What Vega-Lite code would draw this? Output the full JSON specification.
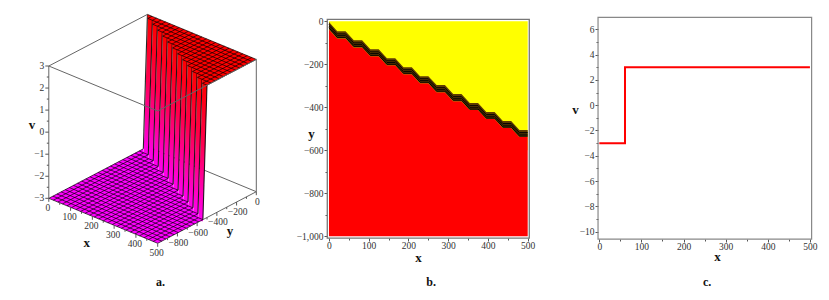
{
"$schema":"https://vega.github.io/schema/vega-lite/v6.json",
"background":"white","padding":0,"bounds":"flush","spacing":68,
"config":{"view":{"stroke":null},"axis":{"grid":false,"domain":false,"labelFont":"Liberation Serif","labelFontSize":9.5,"labelColor":"#333","tickColor":"#555","tickWidth":1,"titleFont":"Liberation Serif","titleFontSize":13,"titleFontWeight":"bold","titleColor":"#111","titleAngle":0,"titleAlign":"center","titleBaseline":"middle","labelPadding":1,"labelFlush":false}},
"datasets":{
"grid":[
{"x":0,"y":-83.33,"x2":41.67,"y2":-83.33,"v":-3},{"x":0,"y":-125,"x2":83.33,"y2":-125,"v":-3},{"x":0,"y":-166.67,"x2":125,"y2":-166.67,"v":-3},{"x":0,"y":-208.33,"x2":166.67,"y2":-208.33,"v":-3},{"x":0,"y":-250,"x2":208.33,"y2":-250,"v":-3},{"x":0,"y":-291.67,"x2":250,"y2":-291.67,"v":-3},{"x":0,"y":-333.33,"x2":291.67,"y2":-333.33,"v":-3},{"x":0,"y":-375,"x2":333.33,"y2":-375,"v":-3},{"x":0,"y":-416.67,"x2":375,"y2":-416.67,"v":-3},{"x":0,"y":-458.33,"x2":416.67,"y2":-458.33,"v":-3},{"x":0,"y":-500,"x2":458.33,"y2":-500,"v":-3},{"x":0,"y":-541.67,"x2":500,"y2":-541.67,"v":-3},{"x":0,"y":-583.33,"x2":500,"y2":-583.33,"v":-3},{"x":0,"y":-625,"x2":500,"y2":-625,"v":-3},{"x":0,"y":-666.67,"x2":500,"y2":-666.67,"v":-3},{"x":0,"y":-708.33,"x2":500,"y2":-708.33,"v":-3},{"x":0,"y":-750,"x2":500,"y2":-750,"v":-3},{"x":0,"y":-791.67,"x2":500,"y2":-791.67,"v":-3},{"x":0,"y":-833.33,"x2":500,"y2":-833.33,"v":-3},{"x":0,"y":-875,"x2":500,"y2":-875,"v":-3},{"x":0,"y":-916.67,"x2":500,"y2":-916.67,"v":-3},{"x":0,"y":-958.33,"x2":500,"y2":-958.33,"v":-3},{"x":0,"y":-1000,"x2":500,"y2":-1000,"v":-3},
{"x":0,"y":-1000,"x2":0,"y2":-41.67,"v":-3},{"x":20.83,"y":-1000,"x2":20.83,"y2":-83.33,"v":-3},{"x":41.67,"y":-1000,"x2":41.67,"y2":-83.33,"v":-3},{"x":62.5,"y":-1000,"x2":62.5,"y2":-125,"v":-3},{"x":83.33,"y":-1000,"x2":83.33,"y2":-125,"v":-3},{"x":104.17,"y":-1000,"x2":104.17,"y2":-166.67,"v":-3},{"x":125,"y":-1000,"x2":125,"y2":-166.67,"v":-3},{"x":145.83,"y":-1000,"x2":145.83,"y2":-208.33,"v":-3},{"x":166.67,"y":-1000,"x2":166.67,"y2":-208.33,"v":-3},{"x":187.5,"y":-1000,"x2":187.5,"y2":-250,"v":-3},{"x":208.33,"y":-1000,"x2":208.33,"y2":-250,"v":-3},{"x":229.17,"y":-1000,"x2":229.17,"y2":-291.67,"v":-3},{"x":250,"y":-1000,"x2":250,"y2":-291.67,"v":-3},{"x":270.83,"y":-1000,"x2":270.83,"y2":-333.33,"v":-3},{"x":291.67,"y":-1000,"x2":291.67,"y2":-333.33,"v":-3},{"x":312.5,"y":-1000,"x2":312.5,"y2":-375,"v":-3},{"x":333.33,"y":-1000,"x2":333.33,"y2":-375,"v":-3},{"x":354.17,"y":-1000,"x2":354.17,"y2":-416.67,"v":-3},{"x":375,"y":-1000,"x2":375,"y2":-416.67,"v":-3},{"x":395.83,"y":-1000,"x2":395.83,"y2":-458.33,"v":-3},{"x":416.67,"y":-1000,"x2":416.67,"y2":-458.33,"v":-3},{"x":437.5,"y":-1000,"x2":437.5,"y2":-500,"v":-3},{"x":458.33,"y":-1000,"x2":458.33,"y2":-500,"v":-3},{"x":479.17,"y":-1000,"x2":479.17,"y2":-541.67,"v":-3},{"x":500,"y":-1000,"x2":500,"y2":-541.67,"v":-3},
{"x":0,"y":0,"x2":500,"y2":0,"v":3},{"x":20.83,"y":-41.67,"x2":500,"y2":-41.67,"v":3},{"x":62.5,"y":-83.33,"x2":500,"y2":-83.33,"v":3},{"x":104.17,"y":-125,"x2":500,"y2":-125,"v":3},{"x":145.83,"y":-166.67,"x2":500,"y2":-166.67,"v":3},{"x":187.5,"y":-208.33,"x2":500,"y2":-208.33,"v":3},{"x":229.17,"y":-250,"x2":500,"y2":-250,"v":3},{"x":270.83,"y":-291.67,"x2":500,"y2":-291.67,"v":3},{"x":312.5,"y":-333.33,"x2":500,"y2":-333.33,"v":3},{"x":354.17,"y":-375,"x2":500,"y2":-375,"v":3},{"x":395.83,"y":-416.67,"x2":500,"y2":-416.67,"v":3},{"x":437.5,"y":-458.33,"x2":500,"y2":-458.33,"v":3},{"x":479.17,"y":-500,"x2":500,"y2":-500,"v":3},
{"x":20.83,"y":0,"x2":20.83,"y2":-41.67,"v":3},{"x":41.67,"y":0,"x2":41.67,"y2":-41.67,"v":3},{"x":62.5,"y":0,"x2":62.5,"y2":-83.33,"v":3},{"x":83.33,"y":0,"x2":83.33,"y2":-83.33,"v":3},{"x":104.17,"y":0,"x2":104.17,"y2":-125,"v":3},{"x":125,"y":0,"x2":125,"y2":-125,"v":3},{"x":145.83,"y":0,"x2":145.83,"y2":-166.67,"v":3},{"x":166.67,"y":0,"x2":166.67,"y2":-166.67,"v":3},{"x":187.5,"y":0,"x2":187.5,"y2":-208.33,"v":3},{"x":208.33,"y":0,"x2":208.33,"y2":-208.33,"v":3},{"x":229.17,"y":0,"x2":229.17,"y2":-250,"v":3},{"x":250,"y":0,"x2":250,"y2":-250,"v":3},{"x":270.83,"y":0,"x2":270.83,"y2":-291.67,"v":3},{"x":291.67,"y":0,"x2":291.67,"y2":-291.67,"v":3},{"x":312.5,"y":0,"x2":312.5,"y2":-333.33,"v":3},{"x":333.33,"y":0,"x2":333.33,"y2":-333.33,"v":3},{"x":354.17,"y":0,"x2":354.17,"y2":-375,"v":3},{"x":375,"y":0,"x2":375,"y2":-375,"v":3},{"x":395.83,"y":0,"x2":395.83,"y2":-416.67,"v":3},{"x":416.67,"y":0,"x2":416.67,"y2":-416.67,"v":3},{"x":437.5,"y":0,"x2":437.5,"y2":-458.33,"v":3},{"x":458.33,"y":0,"x2":458.33,"y2":-458.33,"v":3},{"x":479.17,"y":0,"x2":479.17,"y2":-500,"v":3},{"x":500,"y":0,"x2":500,"y2":-500,"v":3}
],
"wall":[
{"kind":"s","x":31.25,"y":-41.67,"y2":-83.33},{"kind":"s","x":72.92,"y":-83.33,"y2":-125},{"kind":"s","x":114.58,"y":-125,"y2":-166.67},{"kind":"s","x":156.25,"y":-166.67,"y2":-208.33},{"kind":"s","x":197.92,"y":-208.33,"y2":-250},{"kind":"s","x":239.58,"y":-250,"y2":-291.67},{"kind":"s","x":281.25,"y":-291.67,"y2":-333.33},{"kind":"s","x":322.92,"y":-333.33,"y2":-375},{"kind":"s","x":364.58,"y":-375,"y2":-416.67},{"kind":"s","x":406.25,"y":-416.67,"y2":-458.33},{"kind":"s","x":447.92,"y":-458.33,"y2":-500},{"kind":"s","x":489.58,"y":-500,"y2":-541.67},
{"kind":"e","x":0,"y":0,"y2":-41.67},{"kind":"e","x":41.67,"y":-41.67,"y2":-83.33},{"kind":"e","x":83.33,"y":-83.33,"y2":-125},{"kind":"e","x":125,"y":-125,"y2":-166.67},{"kind":"e","x":166.67,"y":-166.67,"y2":-208.33},{"kind":"e","x":208.33,"y":-208.33,"y2":-250},{"kind":"e","x":250,"y":-250,"y2":-291.67},{"kind":"e","x":291.67,"y":-291.67,"y2":-333.33},{"kind":"e","x":333.33,"y":-333.33,"y2":-375},{"kind":"e","x":375,"y":-375,"y2":-416.67},{"kind":"e","x":416.67,"y":-416.67,"y2":-458.33},{"kind":"e","x":458.33,"y":-458.33,"y2":-500},{"kind":"e","x":500,"y":-500,"y2":-541.67}
],
"floor":[
{"x":0,"y":-1000},{"x":0,"y":-41.67},{"x":20.83,"y":-83.33},{"x":41.67,"y":-83.33},{"x":62.5,"y":-125},{"x":83.33,"y":-125},{"x":104.17,"y":-166.67},{"x":122.6,"y":-166.67},{"x":125,"y":-166.67},{"x":145.83,"y":-208.33},{"x":166.67,"y":-208.33},{"x":187.5,"y":-250},{"x":208.33,"y":-250},{"x":229.17,"y":-291.67},{"x":250,"y":-291.67},{"x":270.83,"y":-333.33},{"x":291.67,"y":-333.33},{"x":312.5,"y":-375},{"x":333.33,"y":-375},{"x":354.17,"y":-416.67},{"x":375,"y":-416.67},{"x":395.83,"y":-458.33},{"x":416.67,"y":-458.33},{"x":437.5,"y":-500},{"x":458.33,"y":-500},{"x":479.17,"y":-541.67},{"x":500,"y":-541.67}
],
"top":[
{"x":0,"y":0},{"x":20.83,"y":-41.67},{"x":41.67,"y":-41.67},{"x":62.5,"y":-83.33},{"x":83.33,"y":-83.33},{"x":104.17,"y":-125},{"x":125,"y":-125},{"x":145.83,"y":-166.67},{"x":166.67,"y":-166.67},{"x":187.5,"y":-208.33},{"x":208.33,"y":-208.33},{"x":229.17,"y":-250},{"x":250,"y":-250},{"x":270.83,"y":-291.67},{"x":291.67,"y":-291.67},{"x":312.5,"y":-333.33},{"x":333.33,"y":-333.33},{"x":354.17,"y":-375},{"x":375,"y":-375},{"x":395.83,"y":-416.67},{"x":416.67,"y":-416.67},{"x":437.5,"y":-458.33},{"x":458.33,"y":-458.33},{"x":479.17,"y":-500},{"x":500,"y":-500},{"x":500,"y":0}
],
"box":[
{"back":true,"x":0,"y":0,"v":-3,"x2":500,"y2":0,"v2":-3},
{"back":false,"x":500,"y":0,"v":-3,"x2":500,"y2":0,"v2":3},
{"back":false,"x":0,"y":-1000,"v":-3,"x2":0,"y2":-1000,"v2":3},
{"back":false,"x":0,"y":-1000,"v":3,"x2":0,"y2":0,"v2":3},
{"back":false,"x":0,"y":-1000,"v":3,"x2":500,"y2":-1000,"v2":3},
{"back":false,"x":500,"y":-1000,"v":3,"x2":500,"y2":0,"v2":3},
{"back":false,"x":500,"y":-541.67,"v":-3,"x2":500,"y2":0,"v2":-3}
],
"ticks":[
{"axis":"x","x":0,"y":-1000,"v":-3,"major":true,"label":"0"},{"axis":"x","x":50,"y":-1000,"v":-3,"major":false,"label":""},{"axis":"x","x":100,"y":-1000,"v":-3,"major":true,"label":"100"},{"axis":"x","x":150,"y":-1000,"v":-3,"major":false,"label":""},{"axis":"x","x":200,"y":-1000,"v":-3,"major":true,"label":"200"},{"axis":"x","x":250,"y":-1000,"v":-3,"major":false,"label":""},{"axis":"x","x":300,"y":-1000,"v":-3,"major":true,"label":"300"},{"axis":"x","x":350,"y":-1000,"v":-3,"major":false,"label":""},{"axis":"x","x":400,"y":-1000,"v":-3,"major":true,"label":"400"},{"axis":"x","x":450,"y":-1000,"v":-3,"major":false,"label":""},{"axis":"x","x":500,"y":-1000,"v":-3,"major":true,"label":"500"},
{"axis":"y","x":500,"y":0,"v":-3,"major":true,"label":"0"},{"axis":"y","x":500,"y":-100,"v":-3,"major":false,"label":""},{"axis":"y","x":500,"y":-200,"v":-3,"major":true,"label":"−200"},{"axis":"y","x":500,"y":-300,"v":-3,"major":false,"label":""},{"axis":"y","x":500,"y":-400,"v":-3,"major":true,"label":"−400"},{"axis":"y","x":500,"y":-500,"v":-3,"major":false,"label":""},{"axis":"y","x":500,"y":-600,"v":-3,"major":true,"label":"−600"},{"axis":"y","x":500,"y":-700,"v":-3,"major":false,"label":""},{"axis":"y","x":500,"y":-800,"v":-3,"major":true,"label":"−800"},{"axis":"y","x":500,"y":-900,"v":-3,"major":false,"label":""},
{"axis":"v","x":0,"y":-1000,"v":-3,"major":true,"label":"−3"},{"axis":"v","x":0,"y":-1000,"v":-2.5,"major":false,"label":""},{"axis":"v","x":0,"y":-1000,"v":-2,"major":true,"label":"−2"},{"axis":"v","x":0,"y":-1000,"v":-1.5,"major":false,"label":""},{"axis":"v","x":0,"y":-1000,"v":-1,"major":true,"label":"−1"},{"axis":"v","x":0,"y":-1000,"v":-0.5,"major":false,"label":""},{"axis":"v","x":0,"y":-1000,"v":0,"major":true,"label":"0"},{"axis":"v","x":0,"y":-1000,"v":0.5,"major":false,"label":""},{"axis":"v","x":0,"y":-1000,"v":1,"major":true,"label":"1"},{"axis":"v","x":0,"y":-1000,"v":1.5,"major":false,"label":""},{"axis":"v","x":0,"y":-1000,"v":2,"major":true,"label":"2"},{"axis":"v","x":0,"y":-1000,"v":2.5,"major":false,"label":""},{"axis":"v","x":0,"y":-1000,"v":3,"major":true,"label":"3"}
],
"stairs":[
{"x":0,"top":-3,"c1":-14,"c2":-22,"c3":-30,"bot":-38},
{"x":20.83,"top":-46.67,"c1":-58.67,"c2":-66.67,"c3":-74.67,"bot":-79.67},{"x":41.67,"top":-46.67,"c1":-58.67,"c2":-66.67,"c3":-74.67,"bot":-79.67},
{"x":62.5,"top":-88.33,"c1":-100.33,"c2":-108.33,"c3":-116.33,"bot":-121.33},{"x":83.33,"top":-88.33,"c1":-100.33,"c2":-108.33,"c3":-116.33,"bot":-121.33},
{"x":104.17,"top":-130,"c1":-142,"c2":-150,"c3":-158,"bot":-163},{"x":125,"top":-130,"c1":-142,"c2":-150,"c3":-158,"bot":-163},
{"x":145.83,"top":-171.67,"c1":-183.67,"c2":-191.67,"c3":-199.67,"bot":-204.67},{"x":166.67,"top":-171.67,"c1":-183.67,"c2":-191.67,"c3":-199.67,"bot":-204.67},
{"x":187.5,"top":-213.33,"c1":-225.33,"c2":-233.33,"c3":-241.33,"bot":-246.33},{"x":208.33,"top":-213.33,"c1":-225.33,"c2":-233.33,"c3":-241.33,"bot":-246.33},
{"x":229.17,"top":-255,"c1":-267,"c2":-275,"c3":-283,"bot":-288},{"x":250,"top":-255,"c1":-267,"c2":-275,"c3":-283,"bot":-288},
{"x":270.83,"top":-296.67,"c1":-308.67,"c2":-316.67,"c3":-324.67,"bot":-329.67},{"x":291.67,"top":-296.67,"c1":-308.67,"c2":-316.67,"c3":-324.67,"bot":-329.67},
{"x":312.5,"top":-338.33,"c1":-350.33,"c2":-358.33,"c3":-366.33,"bot":-371.33},{"x":333.33,"top":-338.33,"c1":-350.33,"c2":-358.33,"c3":-366.33,"bot":-371.33},
{"x":354.17,"top":-380,"c1":-392,"c2":-400,"c3":-408,"bot":-413},{"x":375,"top":-380,"c1":-392,"c2":-400,"c3":-408,"bot":-413},
{"x":395.83,"top":-421.67,"c1":-433.67,"c2":-441.67,"c3":-449.67,"bot":-454.67},{"x":416.67,"top":-421.67,"c1":-433.67,"c2":-441.67,"c3":-449.67,"bot":-454.67},
{"x":437.5,"top":-463.33,"c1":-475.33,"c2":-483.33,"c3":-491.33,"bot":-496.33},{"x":458.33,"top":-463.33,"c1":-475.33,"c2":-483.33,"c3":-491.33,"bot":-496.33},
{"x":479.17,"top":-505,"c1":-517,"c2":-525,"c3":-533,"bot":-538},{"x":500,"top":-505,"c1":-517,"c2":-525,"c3":-533,"bot":-538}
],
"step":[{"x":0,"v":-3},{"x":61,"v":-3},{"x":61,"v":3},{"x":500,"v":3}]
},
"hconcat":[
{"width":259,"height":300,
 "layer":[
 {"data":{"name":"box"},"transform":[{"filter":"datum.back"},{"calculate":"49+0.2186*datum.x+0.099*(datum.y+1000)","as":"u"},{"calculate":"198.3+0.09*datum.x-0.0516*(datum.y+1000)-22.05*(datum.v+3)","as":"w"},{"calculate":"49+0.2186*datum.x2+0.099*(datum.y2+1000)","as":"u2"},{"calculate":"198.3+0.09*datum.x2-0.0516*(datum.y2+1000)-22.05*(datum.v2+3)","as":"w2"}],
  "mark":{"type":"rule","color":"#666","strokeWidth":1},"encoding":{"x":{"field":"u","type":"quantitative","scale":{"domain":[0,259]},"axis":null},"y":{"field":"w","type":"quantitative","scale":{"domain":[0,300],"reverse":true},"axis":null},"x2":{"field":"u2"},"y2":{"field":"w2"}}},
 {"data":{"name":"wall"},"transform":[{"filter":"datum.kind=='s'"},{"calculate":"49+0.2186*datum.x+0.099*(datum.y+1000)","as":"u"},{"calculate":"198.3+0.09*datum.x-0.0516*(datum.y+1000)-132.3","as":"w"},{"calculate":"49+0.2186*datum.x+0.099*(datum.y2+1000)","as":"u2"},{"calculate":"198.3+0.09*datum.x-0.0516*(datum.y2+1000)","as":"w2"}],
  "mark":{"type":"rule","strokeWidth":4.7,"strokeCap":"square","stroke":{"gradient":"linear","x1":0,"y1":0,"x2":0,"y2":1,"stops":[{"offset":0,"color":"#ff0000"},{"offset":0.45,"color":"#ff0050"},{"offset":1,"color":"#ff00f0"}]}},"encoding":{"x":{"field":"u","type":"quantitative","axis":null},"y":{"field":"w","type":"quantitative","axis":null},"x2":{"field":"u2"},"y2":{"field":"w2"}}},
 {"data":{"name":"wall"},"transform":[{"filter":"datum.kind=='e'"},{"calculate":"49+0.2186*datum.x+0.099*(datum.y+1000)","as":"u"},{"calculate":"198.3+0.09*datum.x-0.0516*(datum.y+1000)-132.3","as":"w"},{"calculate":"49+0.2186*datum.x+0.099*(datum.y2+1000)","as":"u2"},{"calculate":"198.3+0.09*datum.x-0.0516*(datum.y2+1000)","as":"w2"}],
  "mark":{"type":"rule","strokeWidth":1.1,"color":"#000","opacity":0.85},"encoding":{"x":{"field":"u","type":"quantitative","axis":null},"y":{"field":"w","type":"quantitative","axis":null},"x2":{"field":"u2"},"y2":{"field":"w2"}}},
 {"data":{"name":"floor"},"transform":[{"calculate":"49+0.2186*datum.x+0.099*(datum.y+1000)","as":"u"},{"calculate":"198.3+0.09*datum.x-0.0516*(datum.y+1000)","as":"w"},{"calculate":"datum.u<158.3?198.3+(datum.u-49)*0.4117:243.3-(datum.u-158.3)*0.5212","as":"wl"}],
  "mark":{"type":"area","color":"#ff00ff","opacity":1},"encoding":{"x":{"field":"u","type":"quantitative","axis":null},"y":{"field":"w","type":"quantitative","axis":null},"y2":{"field":"wl"}}},
 {"data":{"name":"top"},"transform":[{"calculate":"49+0.2186*datum.x+0.099*(datum.y+1000)","as":"u"},{"calculate":"198.3+0.09*datum.x-0.0516*(datum.y+1000)-132.3","as":"w"},{"calculate":"14.4+(datum.u-148)*0.4117","as":"wl"}],
  "mark":{"type":"area","color":"#ff0000","opacity":1},"encoding":{"x":{"field":"u","type":"quantitative","axis":null},"y":{"field":"w","type":"quantitative","axis":null},"y2":{"field":"wl"}}},
 {"data":{"name":"grid"},"transform":[{"calculate":"49+0.2186*datum.x+0.099*(datum.y+1000)","as":"u"},{"calculate":"198.3+0.09*datum.x-0.0516*(datum.y+1000)-22.05*(datum.v+3)","as":"w"},{"calculate":"49+0.2186*datum.x2+0.099*(datum.y2+1000)","as":"u2"},{"calculate":"198.3+0.09*datum.x2-0.0516*(datum.y2+1000)-22.05*(datum.v+3)","as":"w2"}],
  "mark":{"type":"rule","color":"#000","strokeWidth":0.9,"opacity":0.75},"encoding":{"x":{"field":"u","type":"quantitative","axis":null},"y":{"field":"w","type":"quantitative","axis":null},"x2":{"field":"u2"},"y2":{"field":"w2"}}},
 {"data":{"name":"box"},"transform":[{"filter":"!datum.back"},{"calculate":"49+0.2186*datum.x+0.099*(datum.y+1000)","as":"u"},{"calculate":"198.3+0.09*datum.x-0.0516*(datum.y+1000)-22.05*(datum.v+3)","as":"w"},{"calculate":"49+0.2186*datum.x2+0.099*(datum.y2+1000)","as":"u2"},{"calculate":"198.3+0.09*datum.x2-0.0516*(datum.y2+1000)-22.05*(datum.v2+3)","as":"w2"}],
  "mark":{"type":"rule","color":"#666","strokeWidth":1},"encoding":{"x":{"field":"u","type":"quantitative","axis":null},"y":{"field":"w","type":"quantitative","axis":null},"x2":{"field":"u2"},"y2":{"field":"w2"}}},
 {"data":{"name":"ticks"},"transform":[{"calculate":"49+0.2186*datum.x+0.099*(datum.y+1000)","as":"u"},{"calculate":"198.3+0.09*datum.x-0.0516*(datum.y+1000)-22.05*(datum.v+3)","as":"w"},{"calculate":"datum.axis=='v'?datum.u-(datum.major?3.5:2):datum.u","as":"u2"},{"calculate":"datum.axis=='v'?datum.w:datum.w+(datum.major?3.5:2)","as":"w2"}],
  "mark":{"type":"rule","color":"#555","strokeWidth":1},"encoding":{"x":{"field":"u","type":"quantitative","axis":null},"y":{"field":"w","type":"quantitative","axis":null},"x2":{"field":"u2"},"y2":{"field":"w2"}}},
 {"data":{"name":"ticks"},"transform":[{"filter":"datum.axis!='v'&&datum.major"},{"calculate":"49+0.2186*datum.x+0.099*(datum.y+1000)+(datum.axis=='x'?-1:1)","as":"u"},{"calculate":"198.3+0.09*datum.x-0.0516*(datum.y+1000)+10","as":"w"}],
  "mark":{"type":"text","font":"Liberation Serif","fontSize":9.5,"color":"#333","align":"center","baseline":"middle"},"encoding":{"x":{"field":"u","type":"quantitative","axis":null},"y":{"field":"w","type":"quantitative","axis":null},"text":{"field":"label"}}},
 {"data":{"name":"ticks"},"transform":[{"filter":"datum.axis=='v'&&datum.major"},{"calculate":"44.5","as":"u"},{"calculate":"198.3-22.05*(datum.v+3)","as":"w"}],
  "mark":{"type":"text","font":"Liberation Serif","fontSize":9.5,"color":"#333","align":"right","baseline":"middle"},"encoding":{"x":{"field":"u","type":"quantitative","axis":null},"y":{"field":"w","type":"quantitative","axis":null},"text":{"field":"label"}}},
 {"data":{"values":[{"label":"x","x":250,"y":-1000,"v":-3},{"label":"y","x":500,"y":-500,"v":-3},{"label":"v","x":0,"y":-1000,"v":0}]},"transform":[{"calculate":"49+0.2186*datum.x+0.099*(datum.y+1000)+(datum.label=='x'?-16.6:datum.label=='y'?23:-17)","as":"u"},{"calculate":"198.3+0.09*datum.x-0.0516*(datum.y+1000)-22.05*(datum.v+3)+(datum.label=='x'?22:datum.label=='y'?13.5:-7)","as":"w"}],
  "mark":{"type":"text","font":"Liberation Serif","fontSize":13,"fontWeight":"bold","color":"#111","align":"center","baseline":"middle"},"encoding":{"x":{"field":"u","type":"quantitative","axis":null},"y":{"field":"w","type":"quantitative","axis":null},"text":{"field":"label"}}},
 {"data":{"values":[{"label":"a.","u":161,"w":282}]},"mark":{"type":"text","font":"Liberation Serif","fontSize":12,"fontWeight":"bold","color":"#111","align":"center","baseline":"middle"},"encoding":{"x":{"field":"u","type":"quantitative","axis":null},"y":{"field":"w","type":"quantitative","axis":null},"text":{"field":"label"}}}
 ]},
{"width":203,"height":300,
 "layer":[
 {"data":{"values":[{"x0":0,"x1":500,"y0":0,"y1":-600}]},"mark":{"type":"rect","color":"#ffff00"},
  "encoding":{"x":{"field":"x0","type":"quantitative","title":"x","scale":{"domain":[-5,505.8],"nice":false,"zero":false},
    "axis":{"values":[0,50,100,150,200,250,300,350,400,450,500],"tickCount":30,"labelExpr":"datum.value%100==0?datum.label:''","labelOverlap":false,"labelPadding":-1,"tickSize":{"condition":{"test":"datum.value%100==0","value":3},"value":2},"offset":-62,"titleX":91,"titleY":19}},
   "x2":{"field":"x1"},
   "y":{"field":"y0","type":"quantitative","title":"y","scale":{"domain":[-1296,99],"nice":false,"zero":false},
    "axis":{"values":[0,-100,-200,-300,-400,-500,-600,-700,-800,-900,-1000],"tickCount":30,"labelExpr":"datum.value%200==0?datum.label:''","labelOverlap":false,"tickSize":{"condition":{"test":"datum.value%200==0","value":3},"value":2},"titleX":-16,"titleY":133}},
   "y2":{"field":"y1"}}},
 {"data":{"name":"stairs"},"mark":{"type":"area","color":"#ff0000"},"encoding":{"x":{"field":"x","type":"quantitative","title":"x"},"y":{"field":"bot","type":"quantitative","title":"y"},"y2":{"datum":-1000}}},
 {"data":{"name":"stairs"},"mark":{"type":"area","color":"#5e3b00"},"encoding":{"x":{"field":"x","type":"quantitative","title":"x"},"y":{"field":"top","type":"quantitative","title":"y"},"y2":{"field":"bot"}}},
 {"data":{"name":"stairs"},"mark":{"type":"line","color":"#000","strokeWidth":0.9},"encoding":{"x":{"field":"x","type":"quantitative","title":"x"},"y":{"field":"c1","type":"quantitative","title":"y"}}},
 {"data":{"name":"stairs"},"mark":{"type":"line","color":"#000","strokeWidth":0.9},"encoding":{"x":{"field":"x","type":"quantitative","title":"x"},"y":{"field":"c2","type":"quantitative","title":"y"}}},
 {"data":{"name":"stairs"},"mark":{"type":"line","color":"#000","strokeWidth":1},"encoding":{"x":{"field":"x","type":"quantitative","title":"x"},"y":{"field":"c3","type":"quantitative","title":"y"}}},
 {"data":{"values":[{"x0":-4.3,"x1":504,"y0":9.3,"y1":-1008}]},"mark":{"type":"rect","fill":"transparent","stroke":"#777","strokeWidth":1.3},"encoding":{"x":{"field":"x0","type":"quantitative","title":"x"},"x2":{"field":"x1"},"y":{"field":"y0","type":"quantitative","title":"y"},"y2":{"field":"y1"}}},
 {"data":{"values":[{"label":"b.","x":257,"y":-1212}]},"mark":{"type":"text","font":"Liberation Serif","fontSize":12,"fontWeight":"bold","color":"#111","align":"center","baseline":"middle"},"encoding":{"x":{"field":"x","type":"quantitative","title":"x"},"y":{"field":"y","type":"quantitative","title":"y"},"text":{"field":"label"}}}
 ]},
{"width":214,"height":300,
 "layer":[
 {"data":{"values":[{"x0":-3,"x1":504,"y0":6.95,"y1":-10.58}]},"mark":{"type":"rect","fill":"transparent","stroke":"#888","strokeWidth":1.2},"encoding":{"x":{"field":"x0","type":"quantitative","title":"x","scale":{"domain":[-3.09,504.9],"nice":false,"zero":false},
    "axis":{"values":[0,50,100,150,200,250,300,350,400,450,500],"tickCount":30,"labelExpr":"datum.value%100==0?datum.label:''","labelOverlap":false,"labelPadding":-1,"tickSize":{"condition":{"test":"datum.value%100==0","value":3},"value":2},"offset":-61,"titleX":119,"titleY":17}},
   "x2":{"field":"x1"},
   "y":{"field":"y0","type":"quantitative","title":"v","scale":{"domain":[-15.4,8.316],"nice":false,"zero":false},
    "axis":{"values":[6,5,4,3,2,1,0,-1,-2,-3,-4,-5,-6,-7,-8,-9,-10],"tickCount":30,"labelExpr":"datum.value%2==0?datum.label:''","labelOverlap":false,"tickSize":{"condition":{"test":"datum.value%2==0","value":3},"value":2},"titleX":-23,"titleY":109}},
   "y2":{"field":"y1"}}},
 {"data":{"name":"step"},"mark":{"type":"line","color":"#ff0000","strokeWidth":2},"encoding":{"x":{"field":"x","type":"quantitative","title":"x"},"y":{"field":"v","type":"quantitative","title":"v"},"order":null}},
 {"data":{"values":[{"label":"c.","x":256,"y":-13.98}]},"mark":{"type":"text","font":"Liberation Serif","fontSize":12,"fontWeight":"bold","color":"#111","align":"center","baseline":"middle"},"encoding":{"x":{"field":"x","type":"quantitative","title":"x"},"y":{"field":"y","type":"quantitative","title":"v"},"text":{"field":"label"}}}
 ]}
]
}
